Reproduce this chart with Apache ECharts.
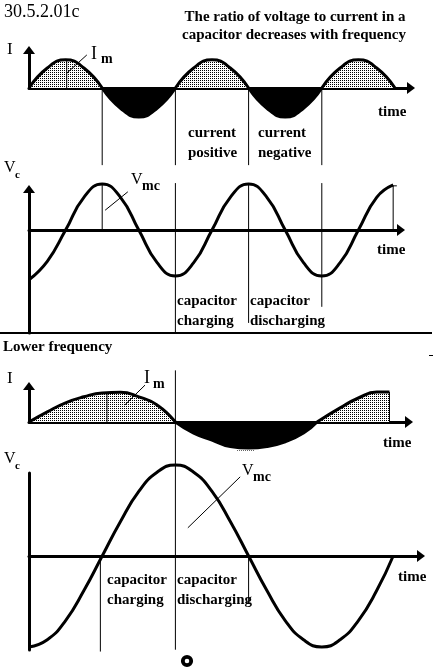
<!DOCTYPE html>
<html><head><meta charset="utf-8">
<script src="https://cdn.jsdelivr.net/npm/echarts@6/dist/echarts.min.js"></script>
<style>html,body{margin:0;padding:0;background:#fff}#c{width:435px;height:671px}</style>
</head><body><div id="c"></div>
<script>
// ---------- data (time in quarter-periods of the higher frequency) ----------
const hiT  = [0,0.5,1,1.5,2,2.5,3,3.5,4,4.5,5,5.5,6,6.5,7,7.5,8,8.5,9,9.5,10];
const hiI  = [0,0.69,0.97,0.69,0,-0.7,-1,-0.7,0,0.69,0.97,0.69,0,-0.7,-1,-0.7,0,0.69,0.97,0.69,0];
const hiVt = [0,0.5,1,1.5,2,2.5,3,3.5,4,4.5,5,5.5,6,6.5,7,7.5,8,8.5,9,9.5,9.95];
const hiV  = [-1.08,-0.68,0,0.71,1,0.71,0,-0.71,-1,-0.71,0,0.71,1,0.71,0,-0.71,-1,-0.71,0,0.71,0.98];
const loIt = [0,0.5,1,1.5,2,2.5,3,3.5,4,4.5,5,5.5,6,6.5,7,7.5,7.87,8.5,9,9.5,9.85];
const loI  = [0,0.34,0.64,0.84,0.97,0.99,0.84,0.57,0,-0.37,-0.6,-0.82,-0.87,-0.82,-0.66,-0.37,0,0.47,0.8,1,1];
const loVt = [0,0.5,1,1.5,2,2.5,3,3.5,4,4.5,5,5.5,6,6.5,7,7.5,8,8.5,9,9.5,9.95];
const loV  = [-1,-0.92,-0.71,-0.38,0,0.38,0.71,0.92,1,0.92,0.71,0.38,0,-0.38,-0.71,-0.92,-1,-0.92,-0.71,-0.38,0];

// annotation lines [[t1,v1],[t2,v2]] in each panel's data units
const guidesHiI = [[[2,0],[2,-2.66]],[[4,0],[4,-2.66]],[[6,0],[6,-2.66]],[[8,0],[8,-2.66]],[[1.03,0],[1.03,0.97]],[[1.04,0.52],[1.58,1.14]]];
const guidesHiV = [[[2,0],[2,1]],[[4,1.02],[4,-2.24]],[[6,1.02],[6,-2.02]],[[8,1.02],[8,-1.67]],[[9.95,0],[9.95,0.96]],[[9.88,0.96],[10.05,0.96]],[[2.08,0.43],[2.7,0.83]]];
const guidesLoI = [[[9.85,0],[9.85,1]],[[2.13,0],[2.13,0.99]],[[2.62,0.57],[3.17,1.23]]];
const guidesLoV = [[[4,2.04],[4,-1.03]],[[1.95,0],[1.95,-1.05]],[[6,0],[6,-0.52]],[[4.34,0.31],[5.77,0.87]]];

// ---------- layout ----------
const PX = 36.6;           // pixels per time unit
const LEFT = 29;
const panels = [
  {top:50,  h:38,  w:382, ppu:29, ymin:0, arrowY:true},
  {top:189, h:144, w:372, ppu:46, ymin:-103/46, arrowY:true},
  {top:386, h:36,  w:380, ppu:30, ymin:0, arrowY:true},
  {top:473, h:177, w:392, ppu:91, ymin:-94/91, arrowY:false}
];

const dots = document.createElement('canvas');
dots.width = 2; dots.height = 2;
const dctx = dots.getContext('2d');
dctx.fillStyle = '#fff'; dctx.fillRect(0,0,2,2);
dctx.fillStyle = '#000'; dctx.fillRect(0,0,1,1);

const grid = [], xAxis = [], yAxis = [], series = [];
panels.forEach((p, i) => {
  grid.push({left: LEFT, top: p.top, width: p.w, height: p.h});
  xAxis.push({type:'value', gridIndex:i, min:0, max:p.w/PX,
    axisLine:{onZero:true, symbol:['none','triangle'], symbolSize:[12,8], lineStyle:{color:'#000', width:3}},
    axisTick:{show:false}, axisLabel:{show:false}, splitLine:{show:false}});
  const ymax = p.ymin + p.h/p.ppu;
  yAxis.push({type:'value', gridIndex:i, min:p.ymin, max:ymax,
    axisLine:{onZero:true, symbol: p.arrowY ? ['none','triangle'] : 'none', symbolSize:[12,8], lineStyle:{color:'#000', width:3}},
    axisTick:{show:false}, axisLabel:{show:false}, splitLine:{show:false}});
});

const pos = (t,v) => t.map((x,i) => [x, v[i] >= 0 ? v[i] : '-']);
const neg = (t,v) => t.map((x,i) => [x, v[i] <= 0 ? v[i] : '-']);
const all = (t,v) => t.map((x,i) => [x, v[i]]);

function curve(gi, data, fill) {
  const s = {type:'line', xAxisIndex:gi, yAxisIndex:gi, data, smooth:0.5, showSymbol:false, symbol:'none',
    clip:false, silent:true, connectNulls:false, lineStyle:{color:'#000', width:3}, z:2};
  if (fill) s.areaStyle = {color: fill, opacity:1, origin:0};
  series.push(s);
}
function guides(gi, list) {
  list.forEach(seg => series.push({type:'line', xAxisIndex:gi, yAxisIndex:gi, data:seg, showSymbol:false, symbol:'none',
    clip:false, silent:true, lineStyle:{color:'#000', width:1}, z:3}));
}
const pattern = {image: dots, repeat: 'repeat'};
curve(0, pos(hiT, hiI), pattern);
curve(0, neg(hiT, hiI), '#000');
curve(1, all(hiVt, hiV), null);
curve(2, pos(loIt, loI), pattern);
curve(2, neg(loIt, loI), '#000');
curve(3, all(loVt, loV), null);
guides(0, guidesHiI); guides(1, guidesHiV); guides(2, guidesLoI); guides(3, guidesLoV);

// ---------- text ----------
const B15 = 'bold 15px "Liberation Serif"';
const labels = [
  ['30.5.2.01c', 4, 12, '18px "Liberation Serif"', 'left'],
  ['The ratio of voltage to current in a', 295, 17, B15, 'center'],
  ['capacitor decreases with frequency', 294, 35, B15, 'center'],
  ['I', 7, 50, '17px "Liberation Serif"', 'left'],
  ['I', 91, 54, '18px "Liberation Serif"', 'left'],
  ['m', 101, 59, 'bold 14px "Liberation Serif"', 'left'],
  ['time', 378, 112, B15, 'left'],
  ['current', 188, 133, B15, 'left'],
  ['positive', 188, 153, B15, 'left'],
  ['current', 258, 133, B15, 'left'],
  ['negative', 258, 153, B15, 'left'],
  ['V', 4, 168, '16px "Liberation Serif"', 'left'],
  ['c', 15, 175, 'bold 11px "Liberation Serif"', 'left'],
  ['V', 131, 180, '16px "Liberation Serif"', 'left'],
  ['mc', 142, 186, 'bold 14px "Liberation Serif"', 'left'],
  ['time', 377, 250, B15, 'left'],
  ['capacitor', 177, 301, B15, 'left'],
  ['charging', 177, 321, B15, 'left'],
  ['capacitor', 250, 301, B15, 'left'],
  ['discharging', 250, 321, B15, 'left'],
  ['Lower frequency', 3, 347, B15, 'left'],
  ['I', 7, 379, '17px "Liberation Serif"', 'left'],
  ['I', 144, 378, '18px "Liberation Serif"', 'left'],
  ['m', 153, 384, 'bold 14px "Liberation Serif"', 'left'],
  ['time', 383, 443, B15, 'left'],
  ['V', 4, 459, '16px "Liberation Serif"', 'left'],
  ['c', 15, 466, 'bold 11px "Liberation Serif"', 'left'],
  ['V', 242, 471, '16px "Liberation Serif"', 'left'],
  ['mc', 253, 477, 'bold 14px "Liberation Serif"', 'left'],
  ['time', 398, 577, B15, 'left'],
  ['capacitor', 107, 580, B15, 'left'],
  ['charging', 107, 600, B15, 'left'],
  ['capacitor', 177, 580, B15, 'left'],
  ['discharging', 177, 600, B15, 'left']
];
const graphic = labels.map(([text, x, y, font, align]) => ({type:'text', x, y, silent:true,
  style:{text, font, fill:'#000', align, verticalAlign:'middle'}}));
graphic.push({type:'line', silent:true, shape:{x1:0, y1:333, x2:432, y2:333}, style:{stroke:'#000', lineWidth:2}});
graphic.push({type:'line', silent:true, shape:{x1:429, y1:355.5, x2:433, y2:355.5}, style:{stroke:'#000', lineWidth:1}});
graphic.push({type:'line', silent:true, shape:{x1:237, y1:450.5, x2:255, y2:450.5}, style:{stroke:'#666', lineWidth:1, lineDash:[1,1]}});
graphic.push({type:'circle', silent:true, shape:{cx:187, cy:661, r:4.2}, style:{fill:'#fff', stroke:'#000', lineWidth:3.8}});

const chart = echarts.init(document.getElementById('c'), null, {renderer:'canvas'});
chart.setOption({animation:false, backgroundColor:'#fff', grid, xAxis, yAxis, series, graphic});
</script></body></html>
